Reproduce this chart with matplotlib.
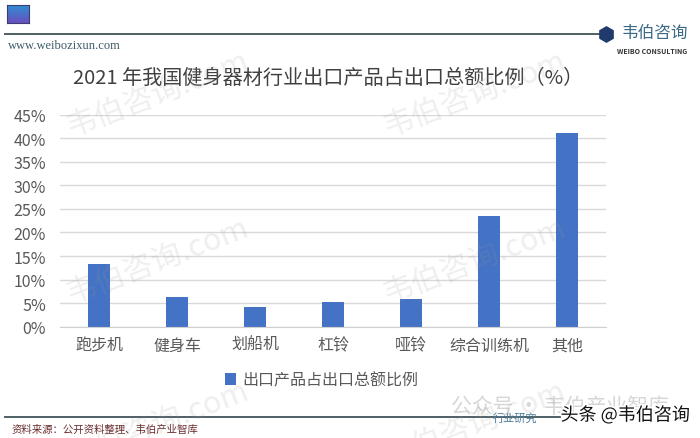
import matplotlib
matplotlib.use('Agg')
import matplotlib.pyplot as plt
import matplotlib.patheffects as pe
from matplotlib.lines import Line2D
import numpy as np

plt.rcParams['font.family'] = ['Noto Sans CJK SC', 'DejaVu Sans']

# 数据
categories = ['跑步机', '健身车', '划船机', '杠铃', '哑铃', '综合训练机', '其他']
share = [13.4, 6.3, 4.2, 5.3, 5.9, 23.5, 41.2]
yticks = np.arange(0, 46, 5)
series_name = '出口产品占出口总额比例'
title = '2021 年我国健身器材行业出口产品占出口总额比例（%）'

W, H = 700, 439
fig = plt.figure(figsize=(7, 4.39), dpi=100)
fig.patch.set_facecolor('white')

def fx(px):
    return px / W

def fy(py):
    return 1 - py / H

ax = fig.add_axes([fx(60), fy(327.7), fx(546), 212 / H])
x = np.arange(len(categories))
ax.bar(x, share, width=0.28, color='#4472C4', zorder=2, label=series_name)
ax.set_xlim(-0.5, len(categories) - 0.5)
ax.set_ylim(0, 45)
ax.set_yticks(yticks, labels=[f'{v}%' for v in yticks])
ax.set_xticks(x, labels=categories)
ax.tick_params(axis='both', length=0, colors='#595959', labelsize=11.5)
ax.tick_params(axis='x', pad=7)
ax.tick_params(axis='y', pad=10)
ax.grid(axis='y', color='#d9d9d9', linewidth=1, zorder=0)
for s in ['top', 'right', 'left']:
    ax.spines[s].set_visible(False)
ax.spines['bottom'].set_color('#d0d0d0')

leg = fig.legend(loc='center', bbox_to_anchor=(fx(322), fy(381)), frameon=False,
                 fontsize=11.5, handlelength=0.7, handleheight=0.7, handletextpad=0.4)
for t in leg.get_texts():
    t.set_color('#595959')

fig.text(fx(328), fy(78), title, ha='center', va='center', fontsize=14.5, color='#404040')

# 页眉：渐变小方块
sq_ax = fig.add_axes([fx(7), fy(24), fx(22), 18 / H])
grad = np.linspace(0, 1, 50).reshape(-1, 1)
sq_ax.imshow(grad, aspect='auto', cmap=matplotlib.colors.LinearSegmentedColormap.from_list(
    'hdr', ['#2f8fd0', '#6a4fc0']), extent=[0, 1, 0, 1], origin='upper')
sq_ax.set_xticks([])
sq_ax.set_yticks([])
for s in sq_ax.spines.values():
    s.set_color('#3a3f70')
    s.set_linewidth(0.8)

fig.add_artist(Line2D([fx(5), fx(600)], [fy(35), fy(35)], color='#4f5f66', linewidth=1.4))
fig.add_artist(Line2D([fx(606)], [fy(35)], marker='h', markersize=11,
                      color='#1f3a6b', linestyle='none'))
fig.text(fx(8), fy(46), 'www.weibozixun.com', ha='left', va='center', fontsize=9,
         family='Liberation Serif', color='#3d5a66')
fig.text(fx(655), fy(33), '韦伯咨询', ha='center', va='center', fontsize=12,
         color='#3a6a86')
fig.text(fx(652), fy(51), 'WEIBO CONSULTING', ha='center', va='center', fontsize=5,
         color='#333333', fontweight='bold')

# 页脚
fig.add_artist(Line2D([fx(5), fx(560)], [fy(418), fy(418)], color='#4f5f66', linewidth=1.4))
fig.text(fx(12), fy(430), '资料来源：公开资料整理、韦伯产业智库', ha='left', va='center',
         fontsize=7.5, color='#6b2e2e')

# 水印
for wx in [158, 475]:
    for wy in [95, 262, 425]:
        fig.text(fx(wx), fy(wy), '韦伯咨询.com', ha='center', va='center', fontsize=22,
                 rotation=21, color='#9a9a9a', alpha=0.16, zorder=5)
fig.text(fx(560), fy(407), '公众号 · 韦伯产业智库', ha='center', va='center', fontsize=15,
         color='#9a9a9a', alpha=0.4, zorder=5)
fig.text(fx(515), fy(418), '行业研究', ha='center', va='center', fontsize=8,
         color='#4a7a9a', zorder=6)
fig.text(fx(625), fy(416), '头条 @韦伯咨询', ha='center', va='center', fontsize=13,
         color='#111111', zorder=7,
         path_effects=[pe.withStroke(linewidth=2.5, foreground='white')])

fig.savefig('out.png', dpi=100)
